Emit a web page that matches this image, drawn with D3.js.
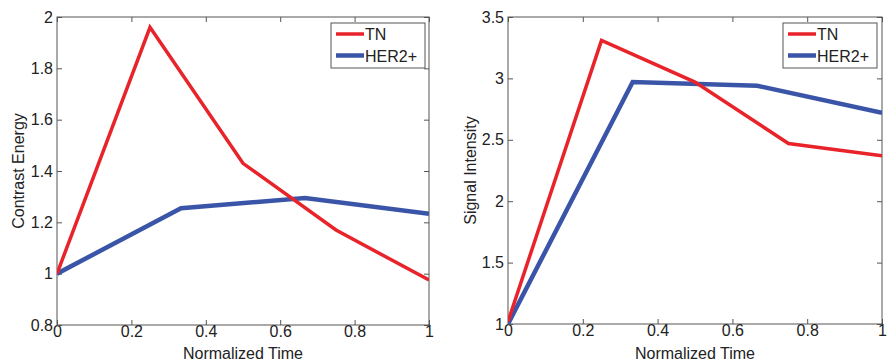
<!DOCTYPE html>
<html><head><meta charset="utf-8">
<script src="https://cdn.jsdelivr.net/npm/d3@7"></script>
<style>body{margin:0;background:#fff;} svg{display:block;font-family:"Liberation Sans",Arial,sans-serif;}</style>
</head><body>
<svg id="c" width="889" height="362"></svg>
<script>
// Data
const xTicks = [0, 0.2, 0.4, 0.6, 0.8, 1];
const tnX = [0, 0.25, 0.5, 0.75, 1];
const herX = [0, 1/3, 2/3, 1];
const energyTN = [1.0, 1.96, 1.43, 1.17, 0.975];
const energyHER = [1.0, 1.255, 1.295, 1.233];
const energyTicks = [0.8, 1, 1.2, 1.4, 1.6, 1.8, 2];
const signalTN = [1.02, 3.31, 2.97, 2.47, 2.37];
const signalHER = [1.0, 2.97, 2.94, 2.72];
const signalTicks = [1, 1.5, 2, 2.5, 3, 3.5];
const seriesNames = ["TN", "HER2+"];
const colors = ["#e8232a", "#3a55a8"];

const svg = d3.select("#c");
const FS = 16;

function panel(opt) {
  const g = svg.append("g");
  const x = d3.scaleLinear().domain([0, 1]).range([opt.x0, opt.x1]);
  const y = d3.scaleLinear().domain(opt.yDomain).range([opt.y1, opt.y0]);
  g.append("rect").attr("x", opt.x0).attr("y", opt.y0)
    .attr("width", opt.x1 - opt.x0).attr("height", opt.y1 - opt.y0)
    .attr("fill", "none").attr("stroke", "#555").attr("stroke-width", 1);
  const tl = 5;
  const fmt = d => String(d);
  const xb = g.append("g").attr("transform", `translate(0,${opt.y1})`)
    .call(d3.axisBottom(x).tickValues(xTicks).tickSize(-tl).tickPadding(1).tickFormat(fmt));
  const xt = g.append("g").attr("transform", `translate(0,${opt.y0})`)
    .call(d3.axisTop(x).tickValues(xTicks).tickSize(-tl).tickFormat(""));
  const yl = g.append("g").attr("transform", `translate(${opt.x0},0)`)
    .call(d3.axisLeft(y).tickValues(opt.yTicks).tickSize(-tl).tickPadding(4).tickFormat(fmt));
  const yr = g.append("g").attr("transform", `translate(${opt.x1},0)`)
    .call(d3.axisRight(y).tickValues(opt.yTicks).tickSize(-tl).tickFormat(""));
  [xb, xt, yl, yr].forEach(a => {
    a.select(".domain").remove();
    a.selectAll("line").attr("stroke", "#555");
    a.selectAll("text").attr("font-size", FS).attr("fill", "#222")
      .attr("font-family", "Liberation Sans, Arial, sans-serif");
  });
  g.append("text").attr("x", (opt.x0 + opt.x1) / 2).attr("y", 359)
    .attr("text-anchor", "middle").attr("font-size", FS).attr("fill", "#222")
    .text("Normalized Time");
  g.append("text").attr("transform", `translate(${opt.ylx},${(opt.y0 + opt.y1) / 2}) rotate(-90)`)
    .attr("text-anchor", "middle").attr("font-size", FS).attr("fill", "#222")
    .text(opt.ylabel);
  const clipId = "clip" + opt.id;
  g.append("clipPath").attr("id", clipId).append("rect")
    .attr("x", opt.x0).attr("y", opt.y0).attr("width", opt.x1 - opt.x0).attr("height", opt.y1 - opt.y0);
  const line = d3.line().x(d => x(d[0])).y(d => y(d[1]));
  const data = [d3.zip(tnX, opt.tn), d3.zip(herX, opt.her)];
  const widths = [3.5, 4.5];
  [1, 0].forEach(i => {
    g.append("path").datum(data[i]).attr("d", line).attr("fill", "none")
      .attr("stroke", colors[i]).attr("stroke-width", widths[i])
      .attr("stroke-linejoin", "miter").attr("clip-path", `url(#${clipId})`);
  });
  const lg = g.append("g");
  lg.append("rect").attr("x", opt.lx0).attr("y", 23).attr("width", 94).attr("height", 45)
    .attr("fill", "#fff").attr("stroke", "#555").attr("stroke-width", 1);
  seriesNames.forEach((n, i) => {
    const yy = 34 + i * 21.5;
    lg.append("line").attr("x1", opt.lx0 + 5).attr("x2", opt.lx0 + 33)
      .attr("y1", yy).attr("y2", yy).attr("stroke", colors[i]).attr("stroke-width", widths[i]);
    lg.append("text").attr("x", opt.lx0 + 34).attr("y", yy + 6).attr("font-size", FS)
      .attr("fill", "#222").text(n);
  });
}

panel({id: 1, x0: 57, x1: 429, y0: 17, y1: 325, yDomain: [0.8, 2], yTicks: energyTicks,
  tn: energyTN, her: energyHER, ylabel: "Contrast Energy", ylx: 24, lx0: 331});
panel({id: 2, x0: 508, x1: 882, y0: 17, y1: 324, yDomain: [1, 3.5], yTicks: signalTicks,
  tn: signalTN, her: signalHER, ylabel: "Signal Intensity", ylx: 476, lx0: 783});
</script>
</body></html>
